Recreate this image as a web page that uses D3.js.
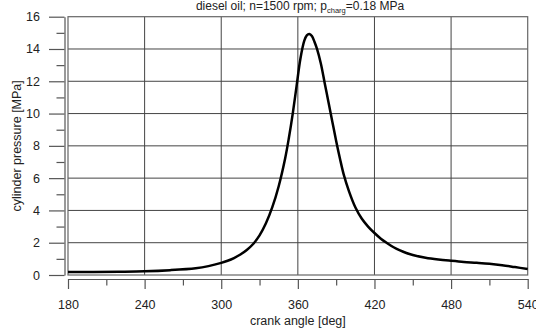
<!DOCTYPE html>
<html>
<head>
<meta charset="utf-8">
<script src="https://cdn.jsdelivr.net/npm/d3@7/dist/d3.min.js"></script>
<style>
html,body{margin:0;padding:0;background:#fff;}
svg{display:block;font-family:"Liberation Sans",Arial,sans-serif;}
</style>
</head>
<body>
<svg id="chart" width="536" height="336"></svg>
<script>
// ---- data ----
const crankAngle = [180,200,220,240,260,280,290,300,305,310,315,320,325,330,335,340,345,350,353,356,359,362,365,367,369,371,373,375,378,381,384,387,390,393,396,400,405,410,415,420,425,430,435,440,445,450,460,470,480,490,500,510,520,530,540];
const pressure   = [0.18,0.18,0.2,0.23,0.3,0.42,0.55,0.75,0.88,1.05,1.27,1.55,1.92,2.45,3.2,4.2,5.5,7.2,8.5,10.0,11.7,13.4,14.5,14.85,14.93,14.8,14.45,14.0,13.1,11.9,10.7,9.5,8.3,7.2,6.2,5.2,4.2,3.5,3.0,2.6,2.25,1.97,1.72,1.52,1.36,1.24,1.07,0.96,0.88,0.81,0.76,0.7,0.61,0.49,0.37];
const xTicks = [180,240,300,360,420,480,540];
const xMinorTicks = [210,270,330,390,450,510];
const yTicks = [0,2,4,6,8,10,12,14,16];
const yMinorTicks = [1,3,5,7,9,11,13,15];
const titleMain = "diesel oil; n=1500 rpm; p";
const titleSub = "charg";
const titleEnd = "=0.18 MPa";
const xLabel = "crank angle [deg]";
const yLabel = "cylinder pressure [MPa]";

// ---- layout ----
const svg = d3.select("#chart");
const L = 68, R = 527.7, T = 16.7, B = 275;
const x = d3.scaleLinear().domain([180,540]).range([L,R]);
const y = d3.scaleLinear().domain([0,16]).range([B,T]);
const gridCol = "#444";
const axisCol = "#555";
const textCol = "#222";

// grid
const g = svg.append("g");
g.selectAll("line.v").data(xTicks.slice(1,-1)).join("line")
  .attr("x1",d=>x(d)).attr("x2",d=>x(d)).attr("y1",T).attr("y2",B)
  .attr("stroke",gridCol).attr("stroke-width",1);
g.selectAll("line.h").data(yTicks.slice(1,-1)).join("line")
  .attr("x1",L).attr("x2",R).attr("y1",d=>y(d)).attr("y2",d=>y(d))
  .attr("stroke",gridCol).attr("stroke-width",1);
// frame
g.append("rect").attr("x",L).attr("y",T).attr("width",R-L).attr("height",B-T)
  .attr("fill","none").attr("stroke","#666").attr("stroke-width",1.2);

// y axis
const yAxisX = 64.5;
svg.append("g").attr("transform",`translate(${yAxisX},0)`)
  .call(d3.axisLeft(y).tickValues(yTicks).tickSize(15.5).tickSizeOuter(0).tickPadding(9).tickFormat(d3.format("d")));
svg.append("g").attr("transform",`translate(${yAxisX},0)`)
  .call(d3.axisLeft(y).tickValues(yMinorTicks).tickSize(8).tickSizeOuter(0).tickFormat(""))
  .call(s=>s.select(".domain").remove());

// x axis
const xAxisY = 279;
svg.append("g").attr("transform",`translate(0,${xAxisY})`)
  .call(d3.axisBottom(x).tickValues(xTicks).tickSize(10).tickSizeOuter(0).tickPadding(11).tickFormat(d3.format("d")));
svg.append("g").attr("transform",`translate(0,${xAxisY})`)
  .call(d3.axisBottom(x).tickValues(xMinorTicks).tickSize(6.5).tickSizeOuter(0).tickFormat(""))
  .call(s=>s.select(".domain").remove());

svg.selectAll(".tick line, .domain").attr("stroke",axisCol).attr("stroke-width",1.2);
svg.selectAll(".tick text").attr("font-size",12.5).attr("fill",textCol)
  .attr("font-family",'"Liberation Sans",Arial,sans-serif');

// curve
const pts = crankAngle.map((a,i)=>[a,pressure[i]]);
svg.append("path").datum(pts)
  .attr("d", d3.line().x(d=>x(d[0])).y(d=>y(d[1])).curve(d3.curveCatmullRom.alpha(0.5)))
  .attr("fill","none").attr("stroke","#000").attr("stroke-width",2.5)
  .attr("stroke-linejoin","round");

// labels
svg.append("text").attr("x",(L+R)/2).attr("y",325).attr("text-anchor","middle")
  .attr("font-size",12.5).attr("fill",textCol).text(xLabel);
svg.append("text").attr("transform",`translate(21,${(T+B)/2}) rotate(-90)`)
  .attr("text-anchor","middle").attr("font-size",12.5).attr("fill",textCol).text(yLabel);

const title = svg.append("text").attr("x",300).attr("y",10).attr("text-anchor","middle")
  .attr("font-size",12).attr("fill",textCol);
title.append("tspan").text(titleMain);
title.append("tspan").attr("font-size",7.5).attr("dy",3).text(titleSub);
title.append("tspan").attr("dy",-3).text(titleEnd);
</script>
</body>
</html>
